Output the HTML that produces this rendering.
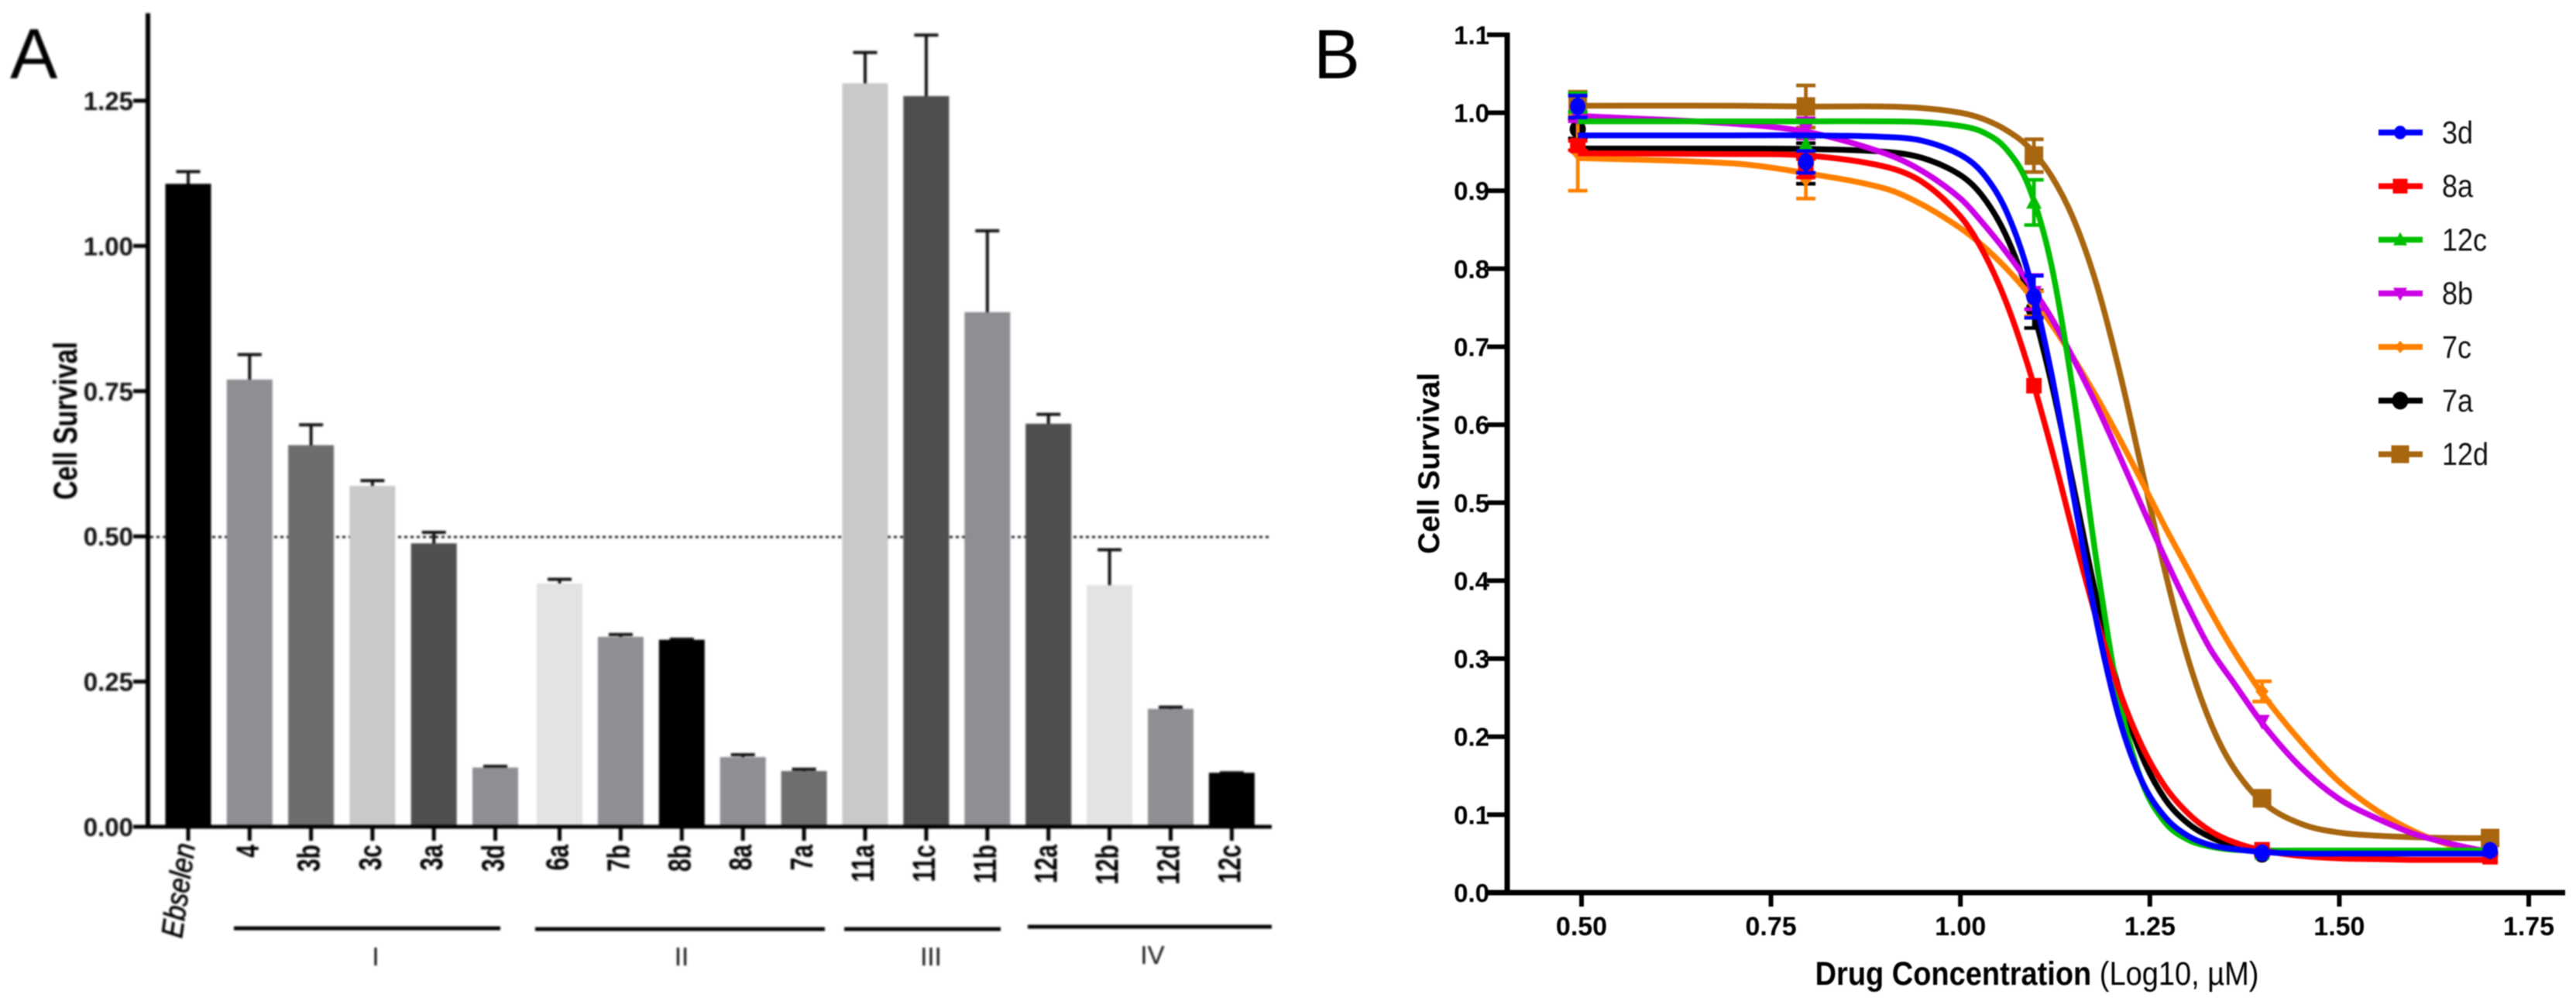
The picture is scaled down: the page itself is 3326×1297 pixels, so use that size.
<!DOCTYPE html>
<html lang="en">
<head>
<meta charset="utf-8">
<title>Cell survival charts</title>
<style>
html,body{margin:0;padding:0;background:#fff;}
#figure{display:block;width:3326px;height:1297px;font-family:"Liberation Sans",sans-serif;}
#panel-a{filter:blur(1.3px);}
#panel-b{filter:blur(0.8px);}
</style>
</head>
<body>
<svg id="figure" xmlns="http://www.w3.org/2000/svg" width="3326" height="1297" viewBox="0 0 3326 1297">
  <rect x="0" y="0" width="3326" height="1297" fill="#fff"/>
  <g id="panel-a">
    <text x="13" y="101" font-size="92" fill="#000">A</text>
    <text transform="translate(99,543) rotate(-90) scale(1,1.25)" text-anchor="middle" font-size="34" font-weight="bold" fill="#000">Cell Survival</text>
    <line x1="194" x2="1642" y1="693" y2="693" stroke="#222" stroke-width="3" stroke-dasharray="4 4"/>
    <g id="bars"></g>
    <g id="a-axes"></g>
    <g stroke="#000" stroke-width="5">
      <line x1="302" x2="646" y1="1198" y2="1198"/>
      <line x1="691" x2="1065" y1="1199" y2="1199"/>
      <line x1="1090" x2="1292" y1="1199" y2="1199"/>
      <line x1="1327" x2="1642" y1="1196" y2="1196"/>
    </g>
    <g font-size="33" fill="#111" text-anchor="middle">
      <text x="485" y="1246">I</text>
      <text x="880" y="1246">II</text>
      <text x="1202" y="1246">III</text>
      <text x="1488" y="1244">IV</text>
    </g>
  </g>
  <g id="panel-b">
    <text x="1696" y="101" font-size="90" fill="#000">B</text>
    <text transform="translate(1858,598) rotate(-90)" text-anchor="middle" font-size="39" font-weight="bold" fill="#000">Cell Survival</text>
    <text transform="translate(2630,1271) scale(1,1.12)" text-anchor="middle" font-size="38" fill="#000"><tspan font-weight="bold">Drug Concentration</tspan> (Log10, µM)</text>
    <g id="b-axes"></g>
    <g id="curves"></g>
    <g id="legend"></g>
  </g>
</svg>
<script>
// ---------- Panel A data ----------
const barCategories = ["Ebselen","4","3b","3c","3a","3d","6a","7b","8b","8a","7a","11a","11c","11b","12a","12b","12d","12c"];
const barValues = [1.107,0.770,0.657,0.587,0.488,0.102,0.419,0.327,0.322,0.120,0.096,1.280,1.258,0.886,0.694,0.416,0.203,0.093];
const barErrorTops = [1.128,0.813,0.692,0.596,0.507,0.104,0.426,0.331,0.323,0.124,0.099,1.333,1.363,1.026,0.710,0.477,0.206,0.093];
const barFills = ["#000","#8f8e92","#6d6d6d","#c9c9c9","#4f4f4f","#8f8e92","#e3e3e3","#8f8e92","#000","#8f8e92","#6e6e6e","#c9c9c9","#4e4e4e","#8f8e92","#4e4e4e","#e3e3e3","#8f8e92","#000"];
const barYTicks = ["0.00","0.25","0.50","0.75","1.00","1.25"];

// ---------- Panel B data ----------
const seriesNames = ["3d","8a","12c","8b","7c","7a","12d"];
const curveDoses = [0.495,0.7,0.8,0.9,0.95,1.0,1.03,1.06,1.09,1.12,1.15,1.18,1.21,1.24,1.27,1.3,1.33,1.36,1.4,1.45,1.5,1.55,1.6,1.65,1.699];
const curve3d = [0.971,0.971,0.971,0.969,0.964,0.946,0.922,0.875,0.793,0.666,0.505,0.346,0.222,0.142,0.097,0.073,0.061,0.056,0.052,0.05,0.05,0.05,0.05,0.05,0.05];
const curve8a = [0.948,0.947,0.945,0.931,0.911,0.867,0.822,0.758,0.673,0.570,0.457,0.350,0.258,0.187,0.136,0.102,0.079,0.065,0.054,0.047,0.044,0.043,0.042,0.042,0.042];
const curve12c = [0.989,0.989,0.989,0.989,0.988,0.983,0.975,0.954,0.906,0.805,0.634,0.422,0.246,0.141,0.090,0.068,0.059,0.055,0.054,0.054,0.054,0.054,0.054,0.054,0.054];
const curve8b = [0.996,0.986,0.975,0.948,0.925,0.89,0.858,0.822,0.782,0.737,0.683,0.624,0.560,0.494,0.429,0.368,0.312,0.27,0.215,0.16,0.12,0.095,0.075,0.062,0.052];
const curve7c = [0.942,0.935,0.922,0.903,0.882,0.852,0.829,0.801,0.768,0.729,0.684,0.635,0.582,0.526,0.469,0.415,0.361,0.311,0.253,0.193,0.142,0.105,0.078,0.06,0.05];
const curve7a = [0.954,0.954,0.9535,0.950,0.942,0.920,0.892,0.843,0.766,0.654,0.517,0.376,0.258,0.174,0.120,0.089,0.071,0.061,0.055,0.051,0.05,0.05,0.05,0.05,0.05];
const curve12d = [1.009,1.009,1.008,1.008,1.006,1.0,0.992,0.978,0.956,0.919,0.862,0.779,0.668,0.54,0.412,0.301,0.218,0.161,0.115,0.088,0.077,0.073,0.071,0.07,0.07];
const doseLevels = [0.495,0.796,1.097,1.398,1.699];
const means3d = [1.008,0.937,0.764,0.051,0.054];
const errs3d = [0.014,0.014,0.027,0,0];
const means8a = [0.958,0.929,0.65,0.055,0.046];
const errs8a = [0.006,0.012,0,0,0];
const means12c = [1.013,0.959,0.885,0.05,0.055];
const errs12c = [0.012,0.010,0.029,0,0];
const means8b = [0.995,0.98,0.77,0.22,0.052];
const errs8b = [0.006,0.013,0.022,0,0];
const means7c = [0.948,0.915,0.755,0.258,0.052];
const errs7c = [0.048,0.025,0.016,0.013,0];
const means7a = [0.979,0.935,0.748,0.05,0.05];
const errs7a = [0.012,0.026,0.024,0,0];
const means12d = [1.01,1.008,0.945,0.121,0.07];
const errs12d = [0.017,0.027,0.021,0,0];
const curveYTicks = ["0.0","0.1","0.2","0.3","0.4","0.5","0.6","0.7","0.8","0.9","1.0","1.1"];
const curveXTicks = ["0.50","0.75","1.00","1.25","1.50","1.75"];

const NS = "http://www.w3.org/2000/svg";
function mk(parent, tag, attrs, txt) {
  const e = document.createElementNS(NS, tag);
  for (const k in attrs) e.setAttribute(k, attrs[k]);
  if (txt !== undefined) e.textContent = txt;
  parent.appendChild(e);
  return e;
}

// ---------- Panel A scales ----------
function aY(v) { return 1067 - 749.6 * v; }
function aX(i) { return i < 6 ? 243 + 79.3 * i : 722.5 + 78.9 * (i - 6); }

const barsG = document.getElementById("bars");
const aAxes = document.getElementById("a-axes");

barCategories.forEach(function (name, i) {
  const cx = aX(i);
  const top = aY(barValues[i]);
  const errTop = aY(barErrorTops[i]);
  const stem = mk(barsG, "line", {x1: cx, x2: cx, y1: top + 8, y2: errTop, stroke: "#111", "stroke-width": 4});
  
  
  const cap = mk(barsG, "line", {x1: cx - 15.5, x2: cx + 15.5, y1: errTop, y2: errTop, stroke: "#111", "stroke-width": 4});
  
  
  const bar = mk(barsG, "rect", {x: cx - 29.5, y: top, width: 59, height: aY(0) - top, fill: barFills[i]});
  
  
  const tick = mk(aAxes, "line", {x1: cx, x2: cx, y1: 1067, y2: 1085, stroke: "#000", "stroke-width": 5});
  
  
  let lab;
  if (name === "Ebselen") {
    lab = mk(aAxes, "text", {transform: "translate(" + (cx + 9) + ",1090) rotate(-82) scale(1,1.15)", "text-anchor": "end", "font-size": 34, "font-style": "italic", fill: "#000", stroke: "#000", "stroke-width": 0.6}, name);
  } else {
    lab = mk(aAxes, "text", {transform: "translate(" + (cx + 11) + ",1090) rotate(-90) scale(1,1.35)", "text-anchor": "end", "font-size": 30, "font-weight": "bold", fill: "#000"}, name);
  }
  
  
});

const aYAxis = mk(aAxes, "line", {x1: 191, x2: 191, y1: 17, y2: 1069, stroke: "#000", "stroke-width": 6});


const aXAxis = mk(aAxes, "line", {x1: 172, x2: 1642, y1: 1067, y2: 1067, stroke: "#000", "stroke-width": 5});


barYTicks.forEach(function (t) {
  const y = aY(parseFloat(t));
  const tk = mk(aAxes, "line", {x1: 172, x2: 191, y1: y, y2: y, stroke: "#000", "stroke-width": 5});
  
  
  const lb = mk(aAxes, "text", {x: 172, y: y + 12, "text-anchor": "end", "font-size": 33, "font-weight": "bold", fill: "#111"}, t);
  
  
});

// ---------- Panel B scales ----------
function bX(v) { return 2042 + 978.4 * (v - 0.5); }
function bY(v) { return 1152 - 1006.5 * v; }

const bAxes = document.getElementById("b-axes");
const bYAxis = mk(bAxes, "line", {x1: 1946, x2: 1946, y1: 42, y2: 1155, stroke: "#000", "stroke-width": 7});


const bXAxis = mk(bAxes, "line", {x1: 1920, x2: 3312, y1: 1152, y2: 1152, stroke: "#000", "stroke-width": 7});


curveYTicks.forEach(function (t) {
  const y = bY(parseFloat(t));
  const tk = mk(bAxes, "line", {x1: 1920, x2: 1946, y1: y, y2: y, stroke: "#000", "stroke-width": 6});
  
  
  const lb = mk(bAxes, "text", {x: 1923, y: y + 12, "text-anchor": "end", "font-size": 33, "font-weight": "bold", fill: "#000"}, t);
  
  
});
curveXTicks.forEach(function (t) {
  const x = bX(parseFloat(t));
  const tk = mk(bAxes, "line", {x1: x, x2: x, y1: 1152, y2: 1170, stroke: "#000", "stroke-width": 6});
  
  
  const lb = mk(bAxes, "text", {x: x, y: 1207, "text-anchor": "middle", "font-size": 34, "font-weight": "bold", fill: "#000"}, t);
  
  
});

// smooth path through data points (Catmull-Rom converted to cubic Bezier)
function curvePath(xs, ys) {
  const px = xs.map(bX), py = ys.map(bY), n = px.length;
  const m = new Array(n);
  for (let i = 0; i < n; i++) {
    const a = Math.max(i - 1, 0), b = Math.min(i + 1, n - 1);
    m[i] = (py[b] - py[a]) / (px[b] - px[a]);
  }
  let s = "M" + px[0] + " " + py[0];
  for (let i = 0; i < n - 1; i++) {
    const h = (px[i + 1] - px[i]) / 3;
    s += "C" + (px[i] + h) + " " + (py[i] + m[i] * h) + " " + (px[i + 1] - h) + " " + (py[i + 1] - m[i + 1] * h) + " " + px[i + 1] + " " + py[i + 1];
  }
  return s;
}

function drawMarker(parent, shape, size, x, y, color) {
  const r = size / 2;
  let e;
  if (shape === "circle") e = mk(parent, "ellipse", {cx: x, cy: y, rx: r, ry: r * 1.1, fill: color});
  else if (shape === "square") e = mk(parent, "rect", {x: x - r, y: y - r, width: size, height: size, fill: color});
  else if (shape === "up") e = mk(parent, "polygon", {points: x + "," + (y - r * 1.1) + " " + (x + r) + "," + (y + r * 0.8) + " " + (x - r) + "," + (y + r * 0.8), fill: color});
  else if (shape === "down") e = mk(parent, "polygon", {points: x + "," + (y + r * 1.1) + " " + (x + r) + "," + (y - r * 0.8) + " " + (x - r) + "," + (y - r * 0.8), fill: color});
  else e = mk(parent, "polygon", {points: x + "," + (y - r * 1.15) + " " + (x + r) + "," + y + " " + x + "," + (y + r * 1.15) + " " + (x - r) + "," + y, fill: color});
  return e;
}

const seriesColors = {"3d":"#0000ff","8a":"#ff0000","12c":"#00bf00","8b":"#cc00e6","7c":"#ff8000","7a":"#000000","12d":"#a8660f"};
const seriesShapes = {"3d":"circle","8a":"square","12c":"up","8b":"down","7c":"diamond","7a":"circle","12d":"square"};
const seriesSizes = {"3d":20,"8a":20,"12c":20,"8b":20,"7c":17,"7a":21,"12d":24};
const curveData = {
  "3d": [curve3d, means3d, errs3d],
  "8a": [curve8a, means8a, errs8a],
  "12c": [curve12c, means12c, errs12c],
  "8b": [curve8b, means8b, errs8b],
  "7c": [curve7c, means7c, errs7c],
  "7a": [curve7a, means7a, errs7a],
  "12d": [curve12d, means12d, errs12d]
};
const drawOrder = seriesNames.slice().reverse();
const curvesG = document.getElementById("curves");
drawOrder.forEach(function (name) {
  const c = seriesColors[name], dat = curveData[name];
  const path = mk(curvesG, "path", {d: curvePath(curveDoses, dat[0]), fill: "none", stroke: c, "stroke-width": 7.5});
  
  
  doseLevels.forEach(function (dose, i) {
    const x = bX(dose), y = bY(dat[1][i]), up = bY(dat[1][i] + dat[2][i]), dn = bY(dat[1][i] - dat[2][i]);
    if (dat[2][i] > 0) {
      const errPath = "M" + x + " " + up + "V" + dn + "M" + (x - 12.5) + " " + up + "H" + (x + 12.5) + "M" + (x - 12.5) + " " + dn + "H" + (x + 12.5);
      const eb = mk(curvesG, "path", {d: errPath, fill: "none", stroke: c, "stroke-width": 4.7});
      
      
    }
    const mark = drawMarker(curvesG, seriesShapes[name], seriesSizes[name], x, y, c);
    
    
  });
});

// legend
const legendG = document.getElementById("legend");
const legendSizes = {"3d":16,"8a":19,"12c":18,"8b":18,"7c":14,"7a":21,"12d":23};
seriesNames.forEach(function (name, i) {
  const y = 171 + 69.2 * i;
  const ln = mk(legendG, "line", {x1: 3071, x2: 3128, y1: y, y2: y, stroke: seriesColors[name], "stroke-width": 7.5});
  
  
  const mark = drawMarker(legendG, seriesShapes[name], legendSizes[name], 3099, y, seriesColors[name]);
  
  
  const txt = mk(legendG, "text", {transform: "translate(3153," + (y + 14) + ") scale(1,1.12)", "font-size": 36, fill: "#111"}, name);
  
  
});
</script>
</body>
</html>
